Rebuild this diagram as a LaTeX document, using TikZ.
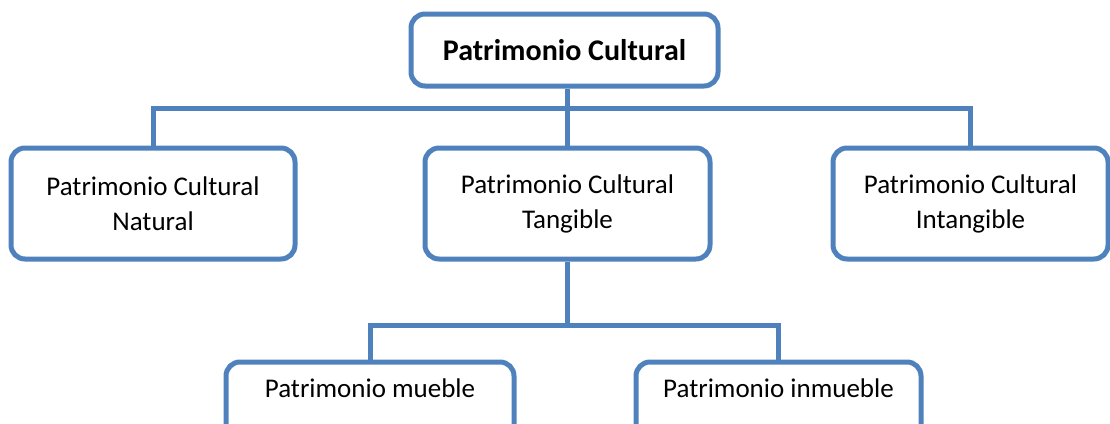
\documentclass[tikz,border=0pt]{standalone}
\usepackage{fontspec}
\setmainfont{Carlito}
\usetikzlibrary{positioning}
\definecolor{azul}{HTML}{4F81BD}

\begin{document}
\begin{tikzpicture}
[x=1pt,y=-1pt,
caja/.style={draw=azul,line width=5pt,rounded corners=14pt,align=center,
  inner sep=0pt,font=\fontsize{27}{35}\selectfont},
hoja/.style={caja,minimum width=288pt,text height=20pt,text depth=50pt,
  inner ysep=15pt},
rama/.style={draw=azul,line width=5pt}]
\useasboundingbox (0,0) rectangle (1110,423);
\node[caja,minimum width=307pt,minimum height=72pt,
  font=\fontsize{30}{36}\selectfont\bfseries](pc) at (564.5,50)
{Patrimonio Cultural};
\node[caja,below=57pt of pc,xshift=3pt,minimum width=285pt,
  minimum height=111pt](tan){Patrimonio Cultural\\Tangible};
\node[caja,left=125pt of tan,minimum width=284pt,minimum height=111pt]
(nat){Patrimonio Cultural\\Natural};
\node[caja,right=118pt of tan,minimum width=275pt,minimum height=111pt]
(intang){Patrimonio Cultural\\Intangible};
\node[hoja,below=98pt of tan,xshift=-197.5pt](mueb){Patrimonio mueble};
\node[hoja,right=117pt of mueb,minimum width=285pt](inmueb)
{Patrimonio inmueble};
\path[rama] (tan.north) -- ++(0,-37) coordinate (bus1);
\path[rama] (bus1) -- (bus1 |- pc.south);
\path[rama] (bus1) -| (nat.north); \path[rama] (bus1) -| (intang.north);
\path[rama] (tan.south) -- ++(0,64) coordinate (bus2);
\path[rama] (bus2) -| (mueb.north); \path[rama] (bus2) -| (inmueb.north);
\end{tikzpicture}
\end{document}
